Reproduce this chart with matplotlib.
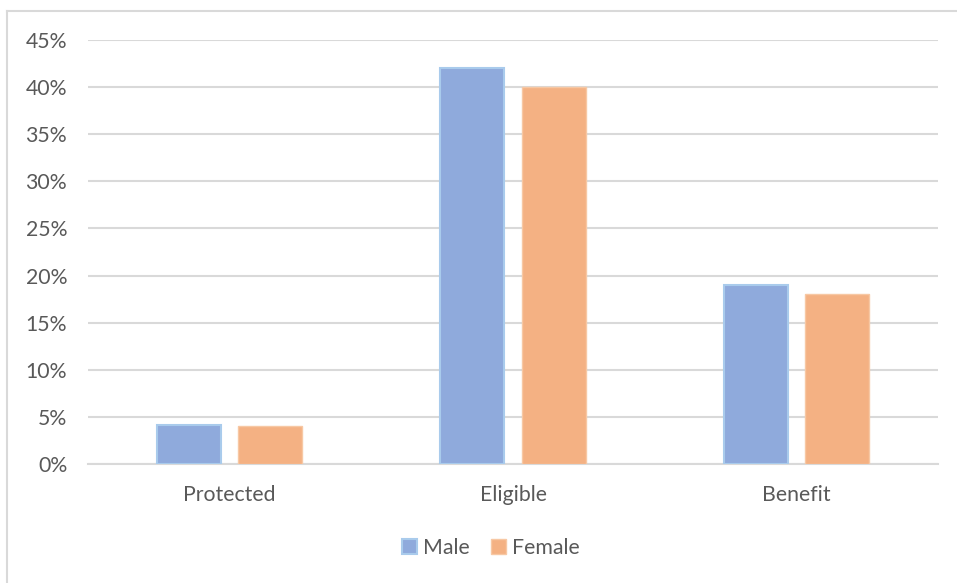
import matplotlib
matplotlib.use("Agg")
import matplotlib.pyplot as plt
import numpy as np
from matplotlib.lines import Line2D

categories = ["Protected", "Eligible", "Benefit"]
male = [4.1, 42.0, 19.0]
female = [4.0, 40.0, 18.0]
yticks = [0, 5, 10, 15, 20, 25, 30, 35, 40, 45]
ytick_labels = ["0%", "5%", "10%", "15%", "20%", "25%", "30%", "35%", "40%", "45%"]

plt.rcParams['font.family'] = ['Lato', 'DejaVu Sans']
text_color = "#595959"
fs = 15.3

W, H = 957, 583
fig = plt.figure(figsize=(W / 100, H / 100), dpi=100)
border = "#D9D9D9"
fig.lines.append(Line2D([7.5 / W, 7.5 / W], [0, 1 - 10.5 / H], transform=fig.transFigure,
                        color=border, linewidth=1.5))
fig.lines.append(Line2D([7.5 / W, 1], [1 - 10.5 / H, 1 - 10.5 / H], transform=fig.transFigure,
                        color=border, linewidth=1.5))

ax = fig.add_axes([88 / W, 1 - 464 / H, (938 - 88) / W, (464 - 40) / H])
x = np.arange(len(categories))
bw = 0.226
off = 0.143
ax.bar(x - off, male, bw, color="#8FAADC", edgecolor="#A9CBEC", linewidth=1.5, label="Male", zorder=3)
ax.bar(x + off, female, bw, color="#F4B183", edgecolor="#F7C8A4", linewidth=1.0, label="Female", zorder=3)

ax.set_xlim(-0.5, 2.5)
ax.set_ylim(0, 45)
ax.set_yticks(yticks)
ax.set_yticklabels(ytick_labels)
ax.set_xticks(x)
ax.set_xticklabels(categories)
ax.yaxis.grid(True, color="#D9D9D9", linewidth=1.5, zorder=0)
ax.set_axisbelow(True)
for s in ["top", "right", "left"]:
    ax.spines[s].set_visible(False)
ax.spines["bottom"].set_color("#D9D9D9")
ax.spines["bottom"].set_linewidth(1.5)
ax.tick_params(axis="both", length=0, colors=text_color, labelsize=fs)
ax.tick_params(axis="y", pad=15)
ax.tick_params(axis="x", pad=15)

fig.legend(loc="center", bbox_to_anchor=(491 / W, 1 - 548 / H), ncol=2, frameon=False,
           fontsize=fs, labelcolor=text_color, handlelength=0.7, handleheight=0.7,
           handletextpad=0.3, columnspacing=1.0)

fig.savefig("out.png", dpi=100)
